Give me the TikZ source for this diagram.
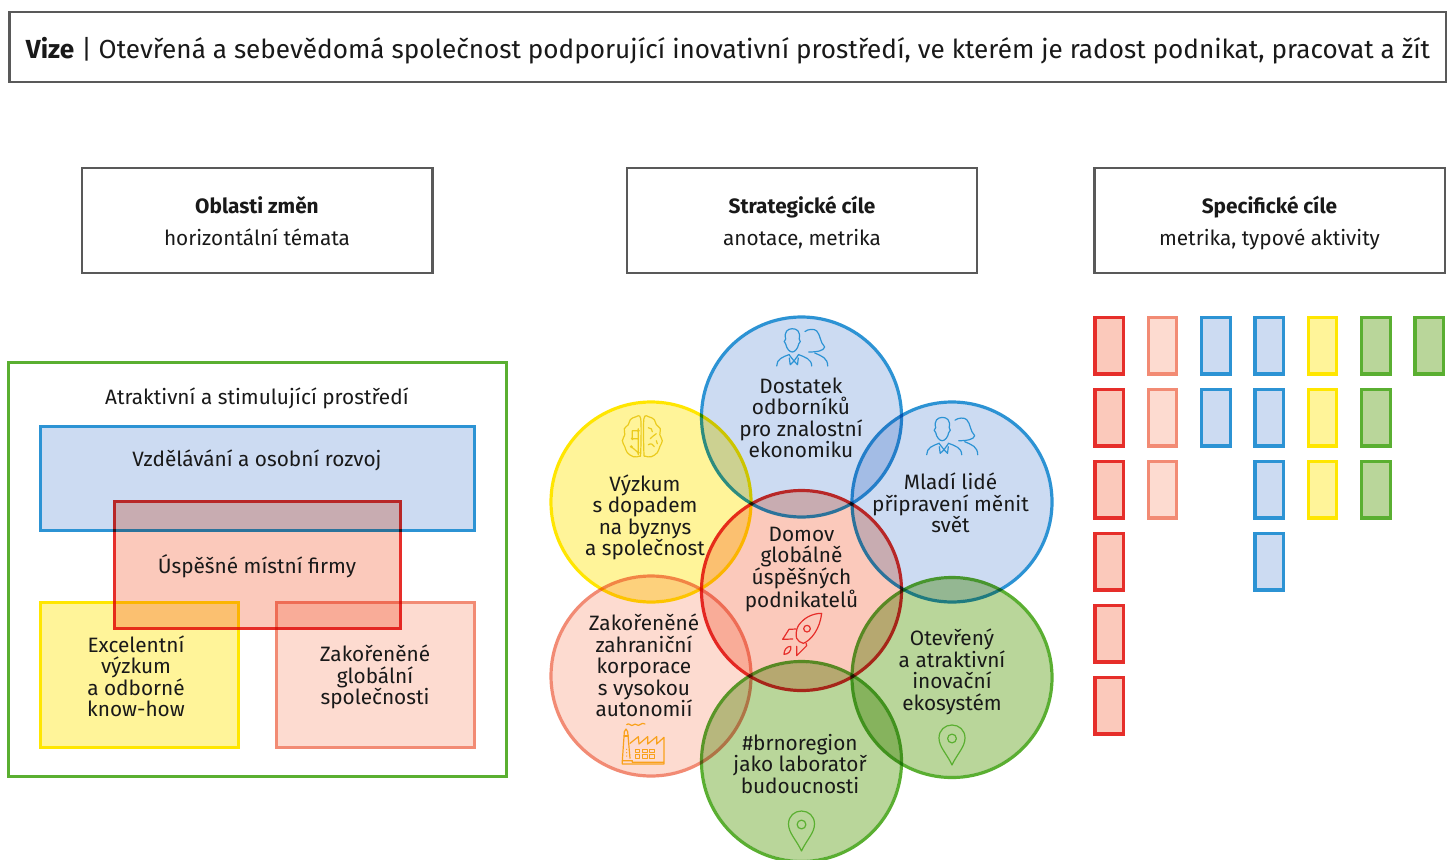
\documentclass[tikz,border=0pt]{standalone}
\usepackage{fontspec}
\setmainfont{Fira Sans}
\definecolor{rs}{HTML}{E62E2A}\definecolor{rf}{HTML}{FBC9BB}
\definecolor{ss}{HTML}{F28B74}\definecolor{sf}{HTML}{FDDBD0}
\definecolor{ys}{HTML}{FFE600}\definecolor{yf}{HTML}{FFF499}
\definecolor{gs}{HTML}{5AAF31}\definecolor{gf}{HTML}{B9D69A}
\definecolor{bs}{HTML}{2C93D4}\definecolor{bf}{HTML}{CCDBF2}
\definecolor{hd}{HTML}{595959}
\definecolor{icy}{HTML}{EBCB1E}\definecolor{ico}{HTML}{F9A11B}
\tikzset{
  label/.style={align=center,inner sep=0pt,font=\fontsize{15.6}{16.1}\selectfont,text=black!90},
  head/.style={align=center,inner sep=0pt,font=\fontsize{15.6}{24}\selectfont,text=black!90},
  hbox/.style={draw=hd,line width=1.7pt},
  iconline/.style={line width=0.9pt,line cap=round,line join=round},
  mult/.style={blend mode=multiply},
}
% #1 stroke colour, #2 fill colour, #3 x1, #4 y1, #5 x2, #6 y2, #7 half the stroke width in px
\newcommand{\mrect}[7]{%
  \fill[mult,#2] ({#3+#7},{#4+#7}) rectangle ({#5-#7},{#6-#7});
  \draw[mult,#1,line width=1.5*#7 pt] (#3,#4) rectangle (#5,#6);}
% #1 stroke colour, #2 fill colour, #3 x, #4 y
\newcommand{\mcirc}[4]{%
  \fill[mult,#2] (#3,#4) circle [radius=98.4];
  \draw[mult,#1,line width=2.4pt] (#3,#4) circle [radius=100];}
\newcommand{\pin}[2]{\begin{scope}[shift={(#1,#2)}]
 \draw[iconline,gs] (0,40) .. controls (-5,29) and (-13,22) .. (-13,13) .. controls (-13,5) and (-7,0) .. (0,0) .. controls (7,0) and (13,5) .. (13,13) .. controls (13,22) and (5,29) .. (0,40) -- cycle;
 \draw[iconline,gs] (0,13.5) circle [radius=4.4];
\end{scope}}
\newcommand{\people}[2]{\begin{scope}[shift={(#1,#2)}]
 \draw[iconline,bs] (9,11) .. controls (7,4) and (11,0.7) .. (15.5,0.7) .. controls (20,0.7) and (24,3) .. (22.5,11) .. controls (24,12) and (24,15) .. (22,16) .. controls (21,21) and (18,24) .. (15.5,24) .. controls (13,24) and (10,21) .. (9,16) .. controls (7,15) and (7,12) .. (9,11) -- cycle;
 \draw[iconline,bs] (0,38) .. controls (0,31) and (6,29) .. (12.6,26.5) (21.6,26.5) .. controls (28,29) and (35,31) .. (35,38);
 \draw[iconline,bs] (12.6,27) -- (17.3,33) -- (21.6,27) (17.3,33) -- (13.5,36.7) -- (12.6,30) (17.3,33) -- (20.8,36.7) -- (21.6,30);
 \draw[iconline,bs] (28.3,3.5) .. controls (31,1) and (38,0.5) .. (40,3) .. controls (44,7) and (43,14) .. (48,19) .. controls (47,23) and (40,24) .. (32,24);
 \draw[iconline,bs] (38,25) .. controls (45,28) and (51,30) .. (51,38);
\end{scope}}
\begin{document}
\begin{tikzpicture}[x=0.75pt,y=-0.75pt]
\useasboundingbox (0,0) rectangle (1449,860);
\fill[white] (0,0) rectangle (1449,860);
% header boxes
\draw[hbox] (9.5,12) rectangle (1446,82);
\draw[hbox] (82,168) rectangle (432.5,273);
\draw[hbox] (627,168) rectangle (977,273);
\draw[hbox] (1094.5,168) rectangle (1445,273);
\node[inner sep=0pt,font=\fontsize{19.6}{22}\selectfont,text=black!90] (vize) at (728,50.5) {\textbf{Vize} | Otevřená a sebevědomá společnost podporující inovativní prostředí, ve kterém je radost podnikat, pracovat a žít};
\node[head] (h1) at (257,221.5) {\textbf{Oblasti změn}\\horizontální témata};
\node[head] (h2) at (802,222.5) {\textbf{Strategické cíle}\\anotace, metrika};
\node[head] (h3) at (1269.5,223.5) {\textbf{Specifické cíle}\\metrika, typové aktivity};
% left panel
\draw[mult,gs,line width=2.25pt] (8.5,362.5) rectangle (506,776.5);
\mrect{bs}{bf}{40}{426}{474.5}{530.5}{1.5}
\mrect{ys}{yf}{40}{602.5}{238.5}{747.5}{1.5}
\mrect{ss}{sf}{276}{602.5}{474.5}{747.5}{1.5}
\mrect{rs}{rf}{114}{501.5}{400}{628.5}{1.5}
\node[label] (p0) at (257,398) {Atraktivní a stimulující prostředí};
\node[label] (p1) at (257,460) {Vzdělávání a osobní rozvoj};
\node[label] (p2) at (257,566) {Úspěšné místní firmy};
\node[label] (p3) at (136,676.5) {Excelentní\\výzkum\\a odborné\\know-how};
\node[label] (p4) at (375,677) {Zakořeněné\\globální\\společnosti};
% circles
\mcirc{bs}{bf}{801.5}{417}
\mcirc{ys}{yf}{651}{502}
\mcirc{bs}{bf}{952}{502}
\mcirc{rs}{rf}{801.5}{590.5}
\mcirc{ss}{sf}{651}{676}
\mcirc{gs}{gf}{952}{677.5}
\mcirc{gs}{gf}{801.5}{761.5}
\node[label] (c1) at (801,418) {Dostatek\\odborníků\\pro znalostní\\ekonomiku};
\node[label] (c2) at (645,517.5) {Výzkum\\s dopadem\\na byznys\\a společnost};
\node[label] (c3) at (950.5,503) {Mladí lidé\\připravení měnit\\svět};
\node[label] (c4) at (801.5,569.5) {Domov\\globálně\\úspěšných\\podnikatelů};
\node[label] (c5) at (644,665.5) {Zakořeněné\\zahraniční\\korporace\\s vysokou\\autonomií};
\node[label] (c6) at (952,672) {Otevřený\\a atraktivní\\inovační\\ekosystém};
\node[label] (c7) at (800,764) {\#brnoregion\\jako laboratoř\\budoucnosti};
% icons
\people{776.7}{328}
\people{926.7}{416.7}
\pin{952}{725}
\pin{801.5}{811}
% brain
\begin{scope}[shift={(642.3,416.7)}]
\draw[iconline,icy] plot[smooth cycle,tension=0.55] coordinates {(1.6,2) (7,0.3) (12,3) (14,8) (18,12) (17.5,18) (20,24) (17.5,30) (15,36) (9,40) (3,39.5) (1.6,36)};
\draw[iconline,icy] plot[smooth cycle,tension=0.55] coordinates {(-1.6,2) (-7,0.3) (-12,3) (-14,8) (-18,12) (-17.5,18) (-20,24) (-17.5,30) (-15,36) (-9,40) (-3,39.5) (-1.6,36)};
\draw[iconline,icy] (-10,14) rectangle (-4,22) (-4,12) -- (-4,38) (-11,30) -- (-4,36);
\fill[icy] (-10,22) circle[radius=1.6] (-4,14) circle[radius=1.6] (-11,30) circle[radius=1.6] (-4,36) circle[radius=1.6];
\draw[iconline,icy] (6,11) .. controls (9,11) and (10,13) .. (10,15) (14,17) .. controls (12,20) and (9,19) .. (8,22) (6,28) .. controls (9,26) and (11,28) .. (12,30) (14,24) .. controls (15,25) and (15,26) .. (15,27);
\end{scope}
% rocket
\begin{scope}[shift={(770,605)},x=0.25pt,y=-0.25pt]
\draw[iconline,rs] (155,25) .. controls (125,25) and (100,40) .. (85,62) .. controls (78,75) and (77,90) .. (80,100) .. controls (85,108) and (90,113) .. (100,115) .. controls (125,105) and (150,70) .. (155,25) -- cycle;
\draw[iconline,rs] (78,72) -- (57,73) -- (38,103) -- (68,102);
\draw[iconline,rs] (108,114) -- (110,122) -- (80,152) -- (80,124);
\draw[iconline,rs] (62,124) .. controls (50,124) and (42,135) .. (42,148) .. controls (55,148) and (65,138) .. (62,124) -- cycle;
\draw[iconline,rs] (111,71) circle [radius=10];
\end{scope}
% factory
\begin{scope}[shift={(615,720)},x=0.25pt,y=-0.25pt]
\draw[iconline,ico] (35,14) .. controls (42,5) and (48,22) .. (55,15) .. controls (62,6) and (68,22) .. (75,14) .. controls (80,8) and (85,10) .. (90,12);
\draw[iconline,ico] (22,122) -- (28,35) -- (33,27) -- (38,35) -- (45,115);
\draw[iconline,ico] (28,48) -- (40,48);
\draw[iconline,ico] (45,70) -- (70,50) -- (72,72) -- (98,50) -- (98,72) -- (125,50) -- (125,72) -- (147,52) -- (147,132) -- (22,132) -- (22,122) -- (52,122) -- (52,127) -- (147,127);
\foreach \wx in {60,82,104}{\foreach \wy in {88,104}{\draw[iconline,ico,line width=0.7pt] (\wx,\wy) rectangle +(14,10);}}
\foreach \dy in {88,98,108}{\fill[ico] (35,\dy) circle[radius=2];}
\end{scope}
% small boxes
\foreach \cx/\sc/\fc/\num in {1095/rs/rf/6,1148.3/ss/sf/3,1201.7/bs/bf/2,1255/bs/bf/4,1308.3/ys/yf/3,1361.7/gs/gf/3,1415/gs/gf/1}{
  \foreach \row in {1,...,\num}{
    \pgfmathsetmacro{\ytop}{317.5+72*(\row-1)}
    \pgfmathsetmacro{\ybot}{374+72*(\row-1)}
    \pgfmathsetmacro{\xr}{\cx+28.5}
    \mrect{\sc}{\fc}{\cx}{\ytop}{\xr}{\ybot}{1.6}
  }
}
\end{tikzpicture}
\end{document}
